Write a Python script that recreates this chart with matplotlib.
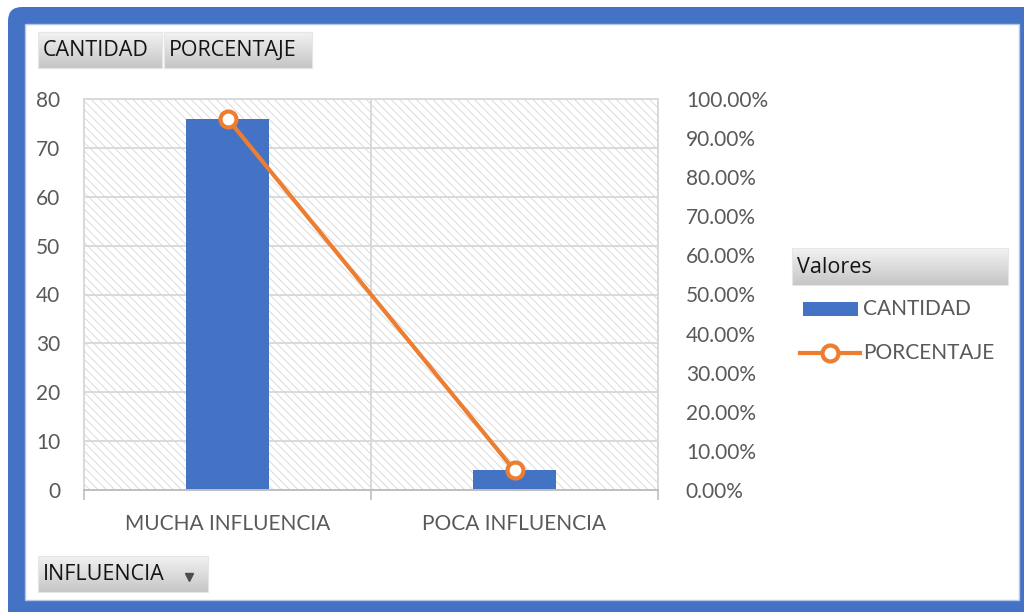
import numpy as np
import matplotlib.pyplot as plt
from matplotlib.patches import Rectangle, FancyBboxPatch
from matplotlib.lines import Line2D
from matplotlib.colors import LinearSegmentedColormap
from matplotlib.ticker import MultipleLocator, PercentFormatter

# datos del gráfico dinámico
categorias = ['MUCHA INFLUENCIA', 'POCA INFLUENCIA']
cantidad = [76, 4]
porcentaje = [95.0, 5.0]
series = ['CANTIDAD', 'PORCENTAJE']

azul = '#4472C4'
naranja = '#ED7D31'
gris_txt = '#595959'
gris_grid = '#D9D9D9'

plt.rcParams['font.family'] = ['Lato', 'DejaVu Sans']
plt.rcParams['hatch.linewidth'] = 0.6

W, H = 1024, 612
fig = plt.figure(figsize=(W / 100, H / 100), dpi=100)


def px(x0, y0, x1, y1):
    # caja en pixeles (origen arriba-izquierda) -> fraccion de figura
    return [x0 / W, 1 - y1 / H, (x1 - x0) / W, (y1 - y0) / H]


# marco azul de fondo
bg = fig.add_axes([0, 0, 1, 1], zorder=-10)
bg.set_autoscale_on(False)
bg.set_xlim(0, W)
bg.set_ylim(H, 0)
bg.axis('off')
bg.add_patch(FancyBboxPatch((8, 7), W + 20, H + 20, boxstyle='round,pad=0,rounding_size=14',
                            fc=azul, ec='none'))
bg.add_patch(Rectangle((25, 24), 1019 - 25, 600 - 24, fc='white', ec='#B4C7E7', lw=1))

# ejes principales
ax = fig.add_axes(px(84, 99, 658, 490))
x = np.arange(len(categorias))
ax.add_patch(Rectangle((0, 0), 1, 1, transform=ax.transAxes, fc='white', ec='#D6D6D6',
                       lw=0, hatch='\\\\\\\\', zorder=0))
ax.bar(x, cantidad, width=0.286, color=azul, zorder=2)
ax.set_xlim(-0.5, len(categorias) - 0.5)
ax.set_ylim(0, 80)
ax.yaxis.set_major_locator(MultipleLocator(10))
ax.set_axisbelow(True)
ax.yaxis.grid(True, color=gris_grid, lw=1.4)
ax.set_xticks(x)
ax.set_xticklabels(categorias)
ax.set_xticks(np.arange(len(categorias) + 1) - 0.5, minor=True)
ax.xaxis.grid(True, which='minor', color=gris_grid, lw=1.4)
ax.tick_params(axis='x', which='major', length=0, pad=17, labelsize=15, labelcolor=gris_txt)
ax.tick_params(axis='x', which='minor', length=7, width=1.2, color='#BFBFBF')
ax.tick_params(axis='y', length=0, pad=17, labelsize=15, labelcolor=gris_txt)
for s in ['left', 'right', 'top']:
    ax.spines[s].set_color(gris_grid)
    ax.spines[s].set_linewidth(1.4)
ax.spines['bottom'].set_color('#BFBFBF')
ax.spines['bottom'].set_linewidth(1.4)

ax2 = ax.twinx()
ax2.plot(x, porcentaje, color=naranja, lw=3.0, marker='o', ms=11.5, mfc='white',
         mec=naranja, mew=3.0, zorder=3, solid_capstyle='round')
ax2.set_ylim(0, 100)
ax2.yaxis.set_major_locator(MultipleLocator(10))
ax2.yaxis.set_major_formatter(PercentFormatter(decimals=2))
ax2.tick_params(axis='y', length=0, pad=20, labelsize=15, labelcolor=gris_txt)
for s in ax2.spines.values():
    s.set_visible(False)

# botones del gráfico dinámico y leyenda
ov = fig.add_axes([0, 0, 1, 1], zorder=10)
ov.set_autoscale_on(False)
ov.set_xlim(0, W)
ov.set_ylim(H, 0)
ov.axis('off')
ov.patch.set_alpha(0)

grad = np.linspace(0, 1, 64).reshape(-1, 1)
cmap_btn = LinearSegmentedColormap.from_list('btn', ['#F2F2F2', '#C6C6C6'])


def boton(x0, y0, x1, y1, texto, size=15.5):
    ov.imshow(grad, extent=(x0, x1, y1, y0), cmap=cmap_btn, aspect='auto', zorder=1,
              origin='upper', interpolation='bilinear')
    ov.add_patch(Rectangle((x0, y0), x1 - x0, y1 - y0, fc='none', ec='#E6E6E6', lw=0.8, zorder=2))
    ov.text(x0 + 5, (y0 + y1) / 2 + 1, texto, ha='left', va='center',
            fontsize=size, color='#141414', family=['Open Sans', 'DejaVu Sans'], zorder=3)


boton(38, 32, 162, 68, series[0])
boton(164, 32, 312, 68, series[1])
boton(38, 556, 208, 592, 'INFLUENCIA')
ov.plot([189], [577], marker='v', ms=5.5, color='#4D4D4D', zorder=3)
boton(792, 248, 1008, 285, 'Valores')

# leyenda
ov.add_patch(Rectangle((803, 302), 55, 14, fc=azul, ec='none', zorder=3))
ov.text(863, 309, series[0], ha='left', va='center', fontsize=15, color=gris_txt)
ov.add_line(Line2D([800, 860], [353, 353], color=naranja, lw=3.0, zorder=3))
ov.plot([830], [353], marker='o', ms=11.5, mfc='white', mec=naranja, mew=3.0, zorder=4)
ov.text(863, 353, series[1], ha='left', va='center', fontsize=15, color=gris_txt)

fig.savefig('out.png', dpi=100)
